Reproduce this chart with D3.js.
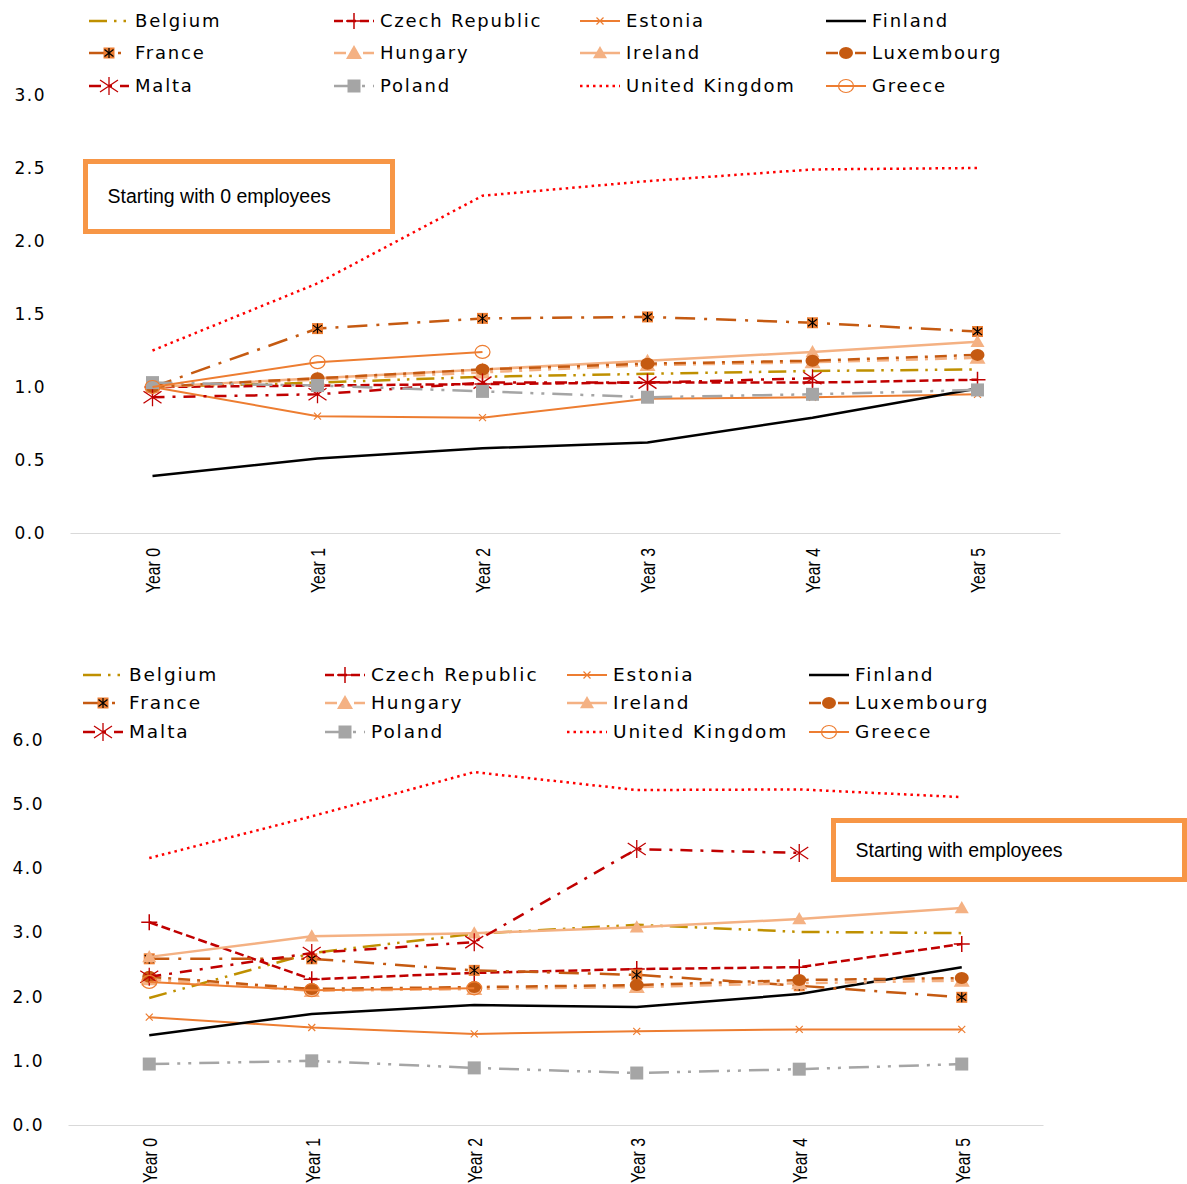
<!DOCTYPE html>
<html>
<head>
<meta charset="utf-8">
<script src="https://cdn.jsdelivr.net/npm/d3@7"></script>
<style>
  body { margin: 0; background: #fff; }
  text { font-family: "DejaVu Sans", sans-serif; fill: #000; }
</style>
</head>
<body>
<svg id="chart" width="1187" height="1184"></svg>
<script>
// categories
var years = ["Year 0", "Year 1", "Year 2", "Year 3", "Year 4", "Year 5"];
var countries = ["Belgium", "Czech Republic", "Estonia", "Finland",
                 "France", "Hungary", "Ireland", "Luxembourg",
                 "Malta", "Poland", "United Kingdom", "Greece"];

// starting with 0 employees (one row per country, same order)
var zeroValues = [
    [1.00, 1.03, 1.07, 1.09, 1.11, 1.12],   // Belgium
    [1.00, 1.01, 1.02, 1.03, 1.03, 1.05],   // Czech Republic
    [1.00, 0.80, 0.79, 0.92, 0.93, 0.95],   // Estonia
    [0.39, 0.51, 0.58, 0.62, 0.79, 0.99],   // Finland
    [1.00, 1.40, 1.47, 1.48, 1.44, 1.38],   // France
    [1.00, 1.05, 1.10, 1.15, 1.17, 1.20],   // Hungary
    [1.00, 1.06, 1.12, 1.18, 1.24, 1.31],   // Ireland
    [1.00, 1.06, 1.12, 1.16, 1.18, 1.22],   // Luxembourg
    [0.93, 0.95, 1.03, 1.03, 1.06, null],   // Malta
    [1.03, 1.01, 0.97, 0.93, 0.95, 0.98],   // Poland
    [1.25, 1.71, 2.31, 2.41, 2.49, 2.50],   // United Kingdom
    [1.00, 1.17, 1.24, null, null, null]    // Greece
];

// starting with employees
var empValues = [
    [1.98, 2.68, 2.98, 3.12, 3.01, 2.99],   // Belgium
    [3.16, 2.27, 2.37, 2.43, 2.46, 2.82],   // Czech Republic
    [1.68, 1.52, 1.42, 1.46, 1.49, 1.49],   // Estonia
    [1.40, 1.73, 1.87, 1.84, 2.04, 2.46],   // Finland
    [2.59, 2.59, 2.41, 2.34, 2.17, 1.99],   // France
    [2.27, 2.09, 2.12, 2.15, 2.21, 2.25],   // Hungary
    [2.62, 2.94, 2.99, 3.08, 3.21, 3.38],   // Ireland
    [2.31, 2.12, 2.15, 2.18, 2.26, 2.29],   // Luxembourg
    [2.31, 2.68, 2.85, 4.30, 4.24, null],   // Malta
    [0.95, 1.00, 0.89, 0.81, 0.87, 0.95],   // Poland
    [4.16, 4.81, 5.50, 5.22, 5.23, 5.11],   // United Kingdom
    [2.23, 2.10, 2.13, null, null, null]    // Greece
];

var zeroTicks = [0, 0.5, 1, 1.5, 2, 2.5, 3];
var empTicks = [0, 1, 2, 3, 4, 5, 6];

// line look of each series (Excel style)
var styles = [
    { color: "#BF9000", dash: "18,7,2.5,7,2.5,7", width: 2.5, marker: "none" },
    { color: "#C00000", dash: "9,4", width: 2.5, marker: "plus" },
    { color: "#ED7D31", dash: null, width: 2, marker: "x" },
    { color: "#000000", dash: null, width: 2.5, marker: "none" },
    { color: "#C55A11", dash: "20,9,3,9", width: 2.5, marker: "squarestar" },
    { color: "#F4B183", dash: "12,7,3,7", width: 2.5, marker: "bigtriangle" },
    { color: "#F4B183", dash: null, width: 2.5, marker: "triangle" },
    { color: "#C55A11", dash: "12,7,3,7", width: 2.5, marker: "circle" },
    { color: "#C00000", dash: "12,8,3,8", width: 2.5, marker: "star" },
    { color: "#A5A5A5", dash: "20,8,3,8,3,8", width: 2.5, marker: "square" },
    { color: "#FF0000", dash: "2.5,4", width: 2.5, marker: "none" },
    { color: "#ED7D31", dash: null, width: 2, marker: "ocircle" }
];

var svg = d3.select("#chart");

function drawMarker(g, st, cx, cy) {
    var m = g.append("g").attr("transform", "translate(" + cx + "," + cy + ")");
    if (st.marker === "plus") {
        m.append("path").attr("d", "M-8,0H8M0,-8V8")
            .attr("stroke", st.color).attr("stroke-width", 1.5).attr("fill", "none");
    } else if (st.marker === "x") {
        m.append("path").attr("d", "M-3.5,-3.5L3.5,3.5M-3.5,3.5L3.5,-3.5")
            .attr("stroke", st.color).attr("stroke-width", 1.2).attr("fill", "none");
    } else if (st.marker === "star") {
        m.append("path").attr("d", "M0,-9V9M-9,-6L9,6M-9,6L9,-6")
            .attr("stroke", st.color).attr("stroke-width", 1.3).attr("fill", "none");
    } else if (st.marker === "squarestar") {
        m.append("rect").attr("x", -5.5).attr("y", -5.5).attr("width", 11).attr("height", 11)
            .attr("fill", "#ED7D31");
        m.append("path").attr("d", "M0,-5V5M-4.5,-3.5L4.5,3.5M-4.5,3.5L4.5,-3.5")
            .attr("stroke", "#000").attr("stroke-width", 1.2).attr("fill", "none");
    } else if (st.marker === "bigtriangle" || st.marker === "triangle") {
        var s = st.marker === "bigtriangle" ? 8 : 7;
        m.append("path").attr("d", "M0," + (-s) + "L" + s + "," + (s * 0.75) + "L" + (-s) + "," + (s * 0.75) + "Z")
            .attr("fill", st.color);
    } else if (st.marker === "circle") {
        m.append("ellipse").attr("rx", 7).attr("ry", 6).attr("fill", st.color);
    } else if (st.marker === "square") {
        m.append("rect").attr("x", -6.5).attr("y", -6.5).attr("width", 13).attr("height", 13)
            .attr("fill", st.color);
    } else if (st.marker === "ocircle") {
        m.append("ellipse").attr("rx", 7.5).attr("ry", 6.5)
            .attr("fill", "none").attr("stroke", st.color).attr("stroke-width", 1.2);
    }
}

function drawPanel(cfg) {
    var x = d3.scalePoint().domain(years).range(cfg.xRange).padding(0.5);
    var y = d3.scaleLinear().domain([0, d3.max(cfg.ticks)]).range(cfg.yRange);

    // category axis
    var xAxis = svg.append("g")
        .attr("transform", "translate(0," + cfg.yRange[0] + ")")
        .call(d3.axisBottom(x).tickSize(0));
    xAxis.select(".domain").attr("stroke", "#D9D9D9").attr("stroke-width", 1.2);
    xAxis.selectAll("text")
        .attr("transform", "rotate(-90)")
        .attr("text-anchor", "end")
        .attr("x", -cfg.labelGap)
        .attr("y", 0)
        .attr("dy", "0.35em")
        .attr("textLength", 45)
        .attr("lengthAdjust", "spacingAndGlyphs")
        .style("font-family", "'Liberation Sans', sans-serif")
        .style("font-size", "21px")
        .style("fill", "#000");

    // value axis
    var yAxis = svg.append("g")
        .attr("transform", "translate(" + cfg.yLabelX + ",0)")
        .call(d3.axisLeft(y).tickValues(cfg.ticks).tickSize(0).tickPadding(0).tickFormat(d3.format(".1f")));
    yAxis.select(".domain").remove();
    yAxis.selectAll("text")
        .style("font-family", "'DejaVu Sans', sans-serif")
        .style("font-size", "17px")
        .style("letter-spacing", "1.5px")
        .style("fill", "#000");

    var line = d3.line()
        .defined(function (d) { return d !== null; })
        .x(function (d, i) { return x(years[i]); })
        .y(function (d) { return y(d); });

    var plot = svg.append("g");
    cfg.values.forEach(function (vals, k) {
        var st = styles[k];
        plot.append("path")
            .attr("d", line(vals))
            .attr("fill", "none")
            .attr("stroke", st.color)
            .attr("stroke-width", st.width)
            .attr("stroke-dasharray", st.dash);
        vals.forEach(function (v, i) {
            if (v === null) return;
            drawMarker(plot, st, x(years[i]), y(v));
        });
    });

    // legend
    var leg = svg.append("g");
    countries.forEach(function (name, k) {
        var st = styles[k];
        var tx = cfg.legendX[k % 4], ty = cfg.legendY[Math.floor(k / 4)];
        leg.append("line")
            .attr("x1", tx - 46).attr("x2", tx - 6)
            .attr("y1", ty).attr("y2", ty)
            .attr("stroke", st.color).attr("stroke-width", st.width)
            .attr("stroke-dasharray", st.dash);
        drawMarker(leg, st, tx - 26, ty);
        leg.append("text")
            .attr("x", tx).attr("y", ty).attr("dy", "0.35em")
            .style("font-size", cfg.legendSize + "px")
            .style("letter-spacing", cfg.legendSpacing + "px")
            .text(name);
    });

    // annotation box
    var b = cfg.box;
    svg.append("rect")
        .attr("x", b.x).attr("y", b.y).attr("width", b.w).attr("height", b.h)
        .attr("fill", "#fff").attr("stroke", "#F79646").attr("stroke-width", 5);
    svg.append("text")
        .attr("x", b.x + 22).attr("y", b.y + b.h / 2).attr("dy", "0.35em")
        .style("font-family", "'Liberation Sans', sans-serif")
        .style("font-size", "19.5px")
        .text(b.label);
}

drawPanel({
    values: zeroValues, ticks: zeroTicks,
    xRange: [70, 1060], yRange: [533, 95], yLabelX: 46, labelGap: 15,
    legendX: [135, 380, 626, 872], legendY: [21, 53, 86], legendSize: 18, legendSpacing: 1.8,
    box: { x: 85.5, y: 161.5, w: 307, h: 70, label: "Starting with 0 employees" }
});

drawPanel({
    values: empValues, ticks: empTicks,
    xRange: [68, 1043], yRange: [1125, 740], yLabelX: 44, labelGap: 13,
    legendX: [129, 371, 613, 855], legendY: [675, 703, 732], legendSize: 18.5, legendSpacing: 1.9,
    box: { x: 833.5, y: 820.5, w: 351, h: 59, label: "Starting with employees" }
});
</script>
</body>
</html>
